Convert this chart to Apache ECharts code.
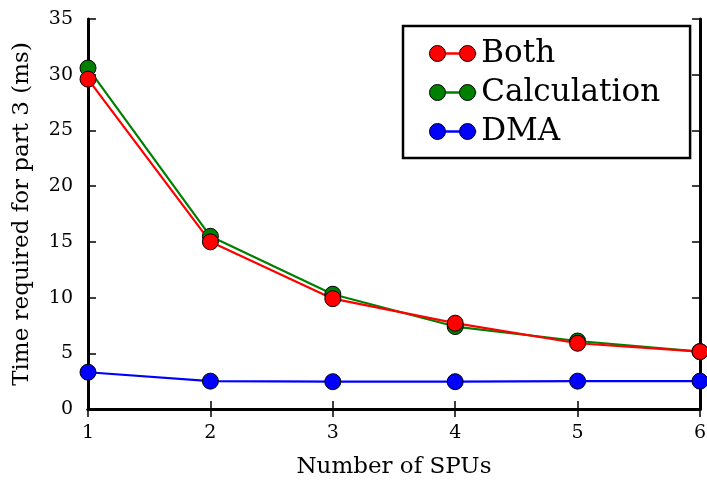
<!DOCTYPE html>
<html>
<head>
<meta charset="utf-8">
<script src="https://cdn.jsdelivr.net/npm/echarts@6/dist/echarts.min.js"></script>
<style>
  html, body { margin: 0; padding: 0; background: #fff; }
  #main { width: 707px; height: 481px; }
</style>
</head>
<body>
<div id="main"></div>
<script>
// 数据
var spus = [1, 2, 3, 4, 5, 6];
var both = [29.6, 15.0, 9.9, 7.7, 5.9, 5.15];
var calculation = [30.6, 15.5, 10.3, 7.4, 6.1, 5.15];
var dma = [3.3, 2.5, 2.45, 2.45, 2.5, 2.5];
var yTicks = [0, 5, 10, 15, 20, 25, 30, 35];
var legendNames = ['Both', 'Calculation', 'DMA'];

function pairs(xs, ys) {
  return xs.map(function (x, i) { return [x, ys[i]]; });
}

var font = 'DejaVu Serif';
var chart = echarts.init(document.getElementById('main'));

function mkSeries(name, color, data) {
  return {
    name: name,
    type: 'line',
    data: pairs(spus, data),
    symbol: 'circle',
    symbolSize: 16,
    lineStyle: { color: color, width: 2.2 },
    itemStyle: { color: color, borderColor: '#000', borderWidth: 1 },
    clip: false,
    z: 3
  };
}

var axisLine = { show: true, lineStyle: { color: '#000', width: 3 } };
var axisTick = { show: true, inside: true, length: 8, lineStyle: { color: '#000', width: 1.5 } };

// 图例: 第一层画线和文字, 第二层画两端的圆点
var legendBase = {
  left: 403,
  top: 26,
  orient: 'vertical',
  padding: [12, 30, 11, 26],
  itemGap: 8,
  itemWidth: 46,
  itemHeight: 32,
  textStyle: { fontFamily: font, fontSize: 31, color: '#000' },
  data: legendNames,
  selectedMode: false
};
var twoDots = 'path://M0,8a8,8 0 1,0 16,0a8,8 0 1,0 -16,0z M30,8a8,8 0 1,0 16,0a8,8 0 1,0 -16,0z';

var option = {
  animation: false,
  backgroundColor: '#fff',
  grid: { left: 88, right: 7, top: 19, bottom: 72, outerBoundsMode: 'none', containLabel: false },
  legend: [
    Object.assign({}, legendBase, {
      borderColor: '#000',
      borderWidth: 2.5,
      backgroundColor: '#fff',
      itemStyle: { opacity: 0 },
      lineStyle: { width: 2.5 },
      z: 10
    }),
    Object.assign({}, legendBase, {
      icon: twoDots,
      borderWidth: 0,
      itemStyle: { borderColor: '#000', borderWidth: 1 },
      textStyle: Object.assign({}, legendBase.textStyle, { color: 'rgba(0,0,0,0)' }),
      z: 11
    })
  ],
  xAxis: [{
    type: 'value',
    min: 1, max: 6, interval: 1,
    name: 'Number of SPUs',
    nameLocation: 'middle',
    nameGap: 47,
    nameTextStyle: { fontFamily: font, fontSize: 23, color: '#000' },
    axisLine: axisLine,
    axisTick: axisTick,
    axisLabel: { fontFamily: font, fontSize: 19, color: '#000', margin: 15 },
    splitLine: { show: false }
  }, {
    type: 'value',
    position: 'top',
    min: 1, max: 6, interval: 1,
    axisLine: axisLine,
    axisTick: axisTick,
    axisLabel: { show: false },
    splitLine: { show: false }
  }],
  yAxis: [{
    type: 'value',
    min: yTicks[0], max: yTicks[yTicks.length - 1], interval: 5,
    name: 'Time required for part 3 (ms)',
    nameLocation: 'middle',
    nameGap: 54,
    nameTextStyle: { fontFamily: font, fontSize: 23, color: '#000' },
    axisLine: axisLine,
    axisTick: axisTick,
    axisLabel: { fontFamily: font, fontSize: 19, color: '#000', margin: 15 },
    splitLine: { show: false }
  }, {
    type: 'value',
    position: 'right',
    min: yTicks[0], max: yTicks[yTicks.length - 1], interval: 5,
    axisLine: axisLine,
    axisTick: axisTick,
    axisLabel: { show: false },
    splitLine: { show: false }
  }],
  series: [
    mkSeries('DMA', '#0000ff', dma),
    mkSeries('Calculation', '#008000', calculation),
    mkSeries('Both', '#ff0000', both)
  ]
};
chart.setOption(option);
</script>
</body>
</html>
